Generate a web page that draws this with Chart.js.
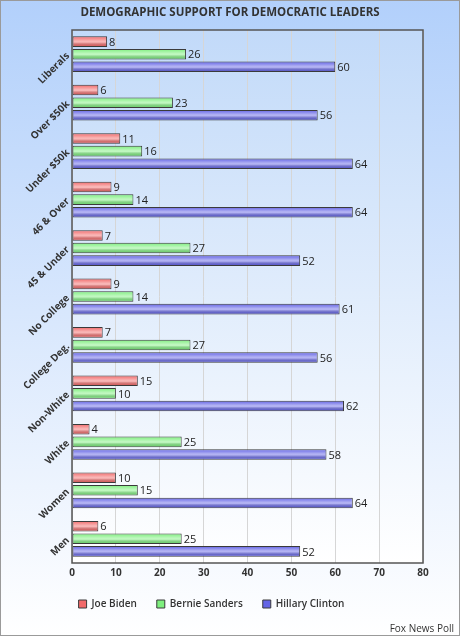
<!DOCTYPE html>
<html>
<head>
<meta charset="utf-8">
<script src="https://cdn.jsdelivr.net/npm/chart.js@4"></script>
<style>
  body { margin: 0; }
  canvas { display: block; }
</style>
</head>
<body>
<canvas id="chart" width="460" height="636"></canvas>
<script>
// Data
var groups = ["Liberals", "Over $50k", "Under $50k", "46 & Over", "45 & Under", "No College",
              "College Deg.", "Non-White", "White", "Women", "Men"];
var biden   = [8, 6, 11, 9, 7, 9, 7, 15, 4, 10, 6];
var sanders = [26, 23, 16, 14, 27, 14, 27, 10, 25, 15, 25];
var clinton = [60, 56, 64, 64, 52, 61, 56, 62, 58, 64, 52];
var xTicks  = [0, 10, 20, 30, 40, 50, 60, 70, 80];

var chartTitle = "DEMOGRAPHIC SUPPORT FOR DEMOCRATIC LEADERS";
var footNote = "Fox News Poll";

var FONT = '"Open Sans", "DejaVu Sans", sans-serif';

// backgrounds, plot frame, bar shine, value labels, title and footnote
var decoPlugin = {
	id: "deco",
	beforeDraw: function(chart) {
		var ctx = chart.ctx, a = chart.chartArea;
		var W = chart.width, H = chart.height;
		ctx.save();
		var g = ctx.createLinearGradient(0, 0, 0, H);
		g.addColorStop(0, "#b2d0fb");
		g.addColorStop(1, "#ffffff");
		ctx.fillStyle = g;
		ctx.fillRect(0, 0, W, H);
		var pg = ctx.createLinearGradient(0, a.top, 0, a.bottom);
		pg.addColorStop(0, "#c2daf9");
		pg.addColorStop(1, "#ffffff");
		ctx.fillStyle = pg;
		ctx.fillRect(a.left, a.top, a.right - a.left, a.bottom - a.top);
		ctx.strokeStyle = "#9a9a9a";
		ctx.lineWidth = 1;
		ctx.strokeRect(0.5, 0.5, W - 1, H - 1);
		ctx.restore();
	},
	afterDatasetsDraw: function(chart) {
		var ctx = chart.ctx, a = chart.chartArea;
		ctx.save();
		chart.data.datasets.forEach(function(ds, i) {
			var meta = chart.getDatasetMeta(i);
			meta.data.forEach(function(bar, j) {
				var h = bar.height;
				var top = bar.y - h / 2;
				var sg = ctx.createLinearGradient(0, top, 0, top + h);
				sg.addColorStop(0, "rgba(255,255,255,0)");
				sg.addColorStop(0.45, "rgba(255,255,255,0.5)");
				sg.addColorStop(0.55, "rgba(255,255,255,0.5)");
				sg.addColorStop(1, "rgba(0,0,0,0.05)");
				ctx.fillStyle = sg;
				ctx.fillRect(bar.base + 1, top + 1, bar.x - bar.base - 2, h - 2);

				ctx.fillStyle = "#222";
				ctx.font = "11px " + FONT;
				ctx.textBaseline = "middle";
				ctx.textAlign = "left";
				ctx.fillText(ds.data[j], bar.x + 2, bar.y + 1);
			});
		});
		// plot frame
		ctx.strokeStyle = "#555";
		ctx.lineWidth = 1.5;
		ctx.strokeRect(a.left, a.top, a.right - a.left, a.bottom - a.top);
		ctx.restore();
	},
	afterDraw: function(chart) {
		var ctx = chart.ctx;
		ctx.save();
		ctx.fillStyle = "#333";
		ctx.font = "bold 11.5px " + FONT;
		ctx.textAlign = "center";
		ctx.textBaseline = "middle";
		ctx.fillText(chartTitle, chart.width / 2, 13);
		ctx.font = "10px " + FONT;
		ctx.textAlign = "right";
		ctx.fillText(footNote, chart.width - 6, 629);
		ctx.restore();
	}
};

var ctx = document.getElementById("chart").getContext("2d");
var myChart = new Chart(ctx, {
	type: "bar",
	data: {
		labels: groups,
		datasets: [
			{ label: "Joe Biden", data: biden, backgroundColor: "#f26a6a", borderColor: "#3a3a3a", borderWidth: 1 },
			{ label: "Bernie Sanders", data: sanders, backgroundColor: "#7eef7e", borderColor: "#3a3a3a", borderWidth: 1 },
			{ label: "Hillary Clinton", data: clinton, backgroundColor: "#6464e6", borderColor: "#3a3a3a", borderWidth: 1 }
		]
	},
	options: {
		indexAxis: "y",
		responsive: false,
		animation: false,
		datasets: {
			bar: { categoryPercentage: 0.78, barPercentage: 0.84, borderSkipped: false }
		},
		layout: { padding: { left: 0, right: 37, top: 30, bottom: 17 } },
		scales: {
			x: {
				min: 0,
				max: 80,
				afterBuildTicks: function(scale) {
					scale.ticks = xTicks.map(function(v) { return { value: v }; });
				},
				afterFit: function(scale) { scale.height = 16; },
				ticks: { color: "#333", font: { family: FONT, size: 10, weight: "bold" }, padding: 4 },
				grid: { color: "#d6d6d6", lineWidth: 1, drawTicks: false },
				border: { display: false }
			},
			y: {
				afterFit: function(scale) { scale.width = 72; },
				ticks: { color: "#333", font: { family: FONT, size: 10, weight: "bold" },
				         minRotation: 45, maxRotation: 45, padding: 4 },
				grid: { display: false, drawTicks: false },
				border: { display: false }
			}
		},
		plugins: {
			title: { display: false },
			tooltip: { enabled: false },
			legend: {
				position: "bottom",
				labels: {
					boxWidth: 8,
					boxHeight: 8,
					padding: 20,
					color: "#333",
					font: { family: FONT, size: 10, weight: "600" }
				}
			}
		}
	},
	plugins: [decoPlugin]
});
</script>
</body>
</html>
